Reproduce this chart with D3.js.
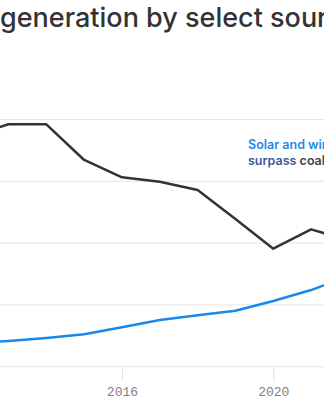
<!DOCTYPE html>
<html><head><meta charset="utf-8">
<script src="https://cdn.jsdelivr.net/npm/d3@7"></script>
<style>body{margin:0;background:#fff;overflow:hidden}svg{display:block}</style>
</head><body>
<svg id="c" width="324" height="400"></svg>
<script>
const years = [2012, 2013, 2014, 2015, 2016, 2017, 2018, 2019, 2020, 2021, 2022];
const coal = [1490, 1569, 1569, 1338, 1226, 1197, 1144, 956, 764, 889, 817];
const solarWind = [150, 166, 186, 210, 255, 302, 333, 362, 425, 496, 587];
const xTicks = [2016, 2020];
const yTicks = [0, 400, 800, 1200, 1600];

const svg = d3.select("#c");
const x = d3.scaleLinear().domain([2012, 2022]).range([-29.3, 348.9]);
const y = d3.scaleLinear().domain([0, 1600]).range([366.7, 119.5]);

// gridlines
svg.append("g").selectAll("line").data(yTicks).join("line")
  .attr("x1", -60).attr("x2", 400)
  .attr("y1", d => y(d)).attr("y2", d => y(d))
  .attr("stroke", "#e5e5e5").attr("stroke-width", 1);

// x axis
const xAxis = d3.axisBottom(x).tickValues(xTicks).tickFormat(d3.format("d")).tickSize(14).tickPadding(6);
const gx = svg.append("g").attr("transform", `translate(0,${y(0)})`).call(xAxis);
gx.select(".domain").remove();
gx.selectAll(".tick line").attr("stroke", "#e0e0e0");
gx.selectAll(".tick text").attr("fill", "#808080").style("font-family", "'Liberation Mono', monospace").style("font-size", "13px");

// lines
const line = d3.line().x((d, i) => x(years[i])).y(d => y(d));
svg.append("path").datum(coal).attr("d", line).attr("fill", "none")
  .attr("stroke", "#333").attr("stroke-width", 2.5).attr("stroke-linejoin", "round");
svg.append("path").datum(solarWind).attr("d", line).attr("fill", "none")
  .attr("stroke", "#1a88e6").attr("stroke-width", 2.5).attr("stroke-linejoin", "round");

// title
const tf = "Inter, 'Noto Sans', sans-serif";
svg.append("text").attr("x", -7).attr("y", 27).attr("text-anchor", "end")
  .style("font-family", tf).style("font-size", "27px").style("font-weight", 500).attr("fill", "#333").text("U.S. electricity");
svg.append("text").attr("x", 0).attr("y", 27)
  .style("font-family", tf).style("font-size", "27px").style("font-weight", 500).attr("fill", "#333").text("generation by select sources");

// annotation
const ann = svg.append("text").attr("x", 248).attr("y", 148.7)
  .style("font-family", tf).style("font-size", "12.5px").style("font-weight", 600);
ann.append("tspan").attr("fill", "#1f8ae6").text("Solar and wind set to");
const ann2 = svg.append("text").attr("x", 248).attr("y", 164.5)
  .style("font-family", tf).style("font-size", "12.5px").style("font-weight", 600);
ann2.append("tspan").attr("fill", "#3b5a9c").text("surpass ");
ann2.append("tspan").attr("fill", "#444").text("coal");
</script>
</body></html>
